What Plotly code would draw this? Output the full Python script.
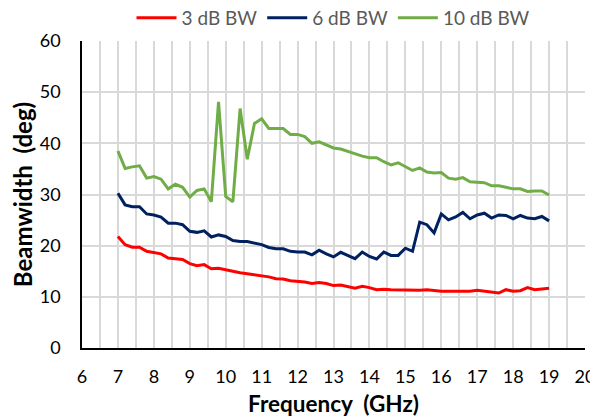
import plotly.graph_objects as go

freq_ghz = [round(7.0 + 0.2 * i, 1) for i in range(61)]

bw_3db = [21.8, 20.2, 19.7, 19.7, 18.9, 18.7, 18.4, 17.6, 17.4, 17.3,
          16.5, 16.1, 16.3, 15.5, 15.6, 15.3, 14.9, 14.7, 14.5, 14.3,
          14.1, 13.9, 13.55, 13.5, 13.15, 13.0, 12.9, 12.6, 12.8, 12.6,
          12.2, 12.3, 12.05, 11.7, 12.05, 11.8, 11.4, 11.5, 11.4, 11.35,
          11.35, 11.3, 11.3, 11.4, 11.2, 11.1, 11.1, 11.1, 11.2, 11.1,
          11.3, 11.1, 10.9, 10.75, 11.4, 11.1, 11.2, 11.8, 11.4, 11.5,
          11.7]

bw_6db = [30.25, 27.97, 27.6, 27.6, 26.2, 26.0, 25.6, 24.4, 24.4, 24.1,
          22.8, 22.6, 22.9, 21.7, 22.1, 21.8, 21.0, 20.8, 20.8, 20.5,
          20.2, 19.65, 19.4, 19.4, 18.9, 18.75, 18.75, 18.2, 19.1, 18.4,
          17.8, 18.7, 18.0, 17.45, 18.75, 17.9, 17.4, 18.75, 18.1, 18.1,
          19.5, 18.9, 24.6, 24.1, 22.5, 26.2, 25.05, 25.6, 26.5, 25.25,
          26.0, 26.35, 25.4, 26.0, 25.9, 25.25, 25.9, 25.4, 25.25, 25.7,
          24.85]

bw_10db = [38.5, 35.1, 35.4, 35.6, 33.2, 33.5, 33.0, 31.1, 32.0, 31.4,
           29.5, 30.8, 31.1, 28.6, 48.1, 29.6, 28.6, 46.8, 36.9, 43.9,
           44.8, 42.9, 42.9, 42.9, 41.75, 41.75, 41.3, 40.0, 40.3, 39.7,
           39.1, 38.9, 38.4, 38.0, 37.5, 37.2, 37.2, 36.4, 35.8, 36.2,
           35.4, 34.7, 35.2, 34.4, 34.2, 34.3, 33.2, 33.0, 33.3, 32.5,
           32.4, 32.3, 31.7, 31.7, 31.4, 31.1, 31.1, 30.6, 30.7, 30.7,
           29.9]

series_names = ["3 dB BW", "6 dB BW", "10 dB BW"]
series_colors = ["#FF0000", "#002060", "#70AD47"]

x_ticks = list(range(6, 21))
y_ticks = list(range(0, 61, 10))

FONT = "Lato, 'Open Sans', sans-serif"

# The page places the figure 8px in from the top-left corner, so the figure
# is sized to fill the rest of the 598x419 window.
W, H, OFF = 590, 411, 8

fig = go.Figure()
for name, vals, col in zip(series_names, [bw_3db, bw_6db, bw_10db], series_colors):
    fig.add_trace(go.Scatter(x=freq_ghz, y=vals, mode="lines", name=name,
                             line=dict(color=col, width=3)))

fig.update_layout(
    width=W, height=H,
    margin=dict(l=82 - OFF, r=13, t=41 - OFF, b=71, autoexpand=False),
    paper_bgcolor="white", plot_bgcolor="white",
    font=dict(family=FONT, color="#000000"),
    legend=dict(orientation="h", x=0.5, xanchor="center", xref="paper",
                y=1 - (18 - OFF) / H, yanchor="middle", yref="container",
                font=dict(size=19, color="#595959", family=FONT),
                itemwidth=40, tracegroupgap=0),
    xaxis=dict(range=[6, 20], tickvals=x_ticks, ticktext=[str(v) for v in x_ticks],
               showgrid=True, gridcolor="#D9D9D9", gridwidth=1.5,
               minor=dict(dtick=0.5, tick0=6, showgrid=True, gridcolor="#D9D9D9", gridwidth=1.5),
               showline=True, linecolor="#000000", linewidth=1.5,
               ticks="outside", ticklen=12, tickcolor="rgba(0,0,0,0)",
               tickfont=dict(size=18, family=FONT, color="#000000"),
               zeroline=False, automargin=False,
               title=dict(text="<b>Frequency&nbsp;&nbsp;(GHz)</b>", standoff=10,
                          font=dict(size=22.5, family=FONT, color="#000000"))),
    yaxis=dict(range=[0, 60], tickvals=y_ticks, ticktext=[str(v) for v in y_ticks],
               showgrid=True, gridcolor="#D9D9D9", gridwidth=1.5,
               showline=True, linecolor="#000000", linewidth=1.5,
               ticks="outside", ticklen=16, tickcolor="rgba(0,0,0,0)",
               tickfont=dict(size=18, family=FONT, color="#000000"),
               zeroline=False, automargin=False,
               title=dict(text="<b>Beamwidth&nbsp;&nbsp;(deg)</b>", standoff=16,
                          font=dict(size=24, family=FONT, color="#000000"))),
)

fig.write_html("out.html")
